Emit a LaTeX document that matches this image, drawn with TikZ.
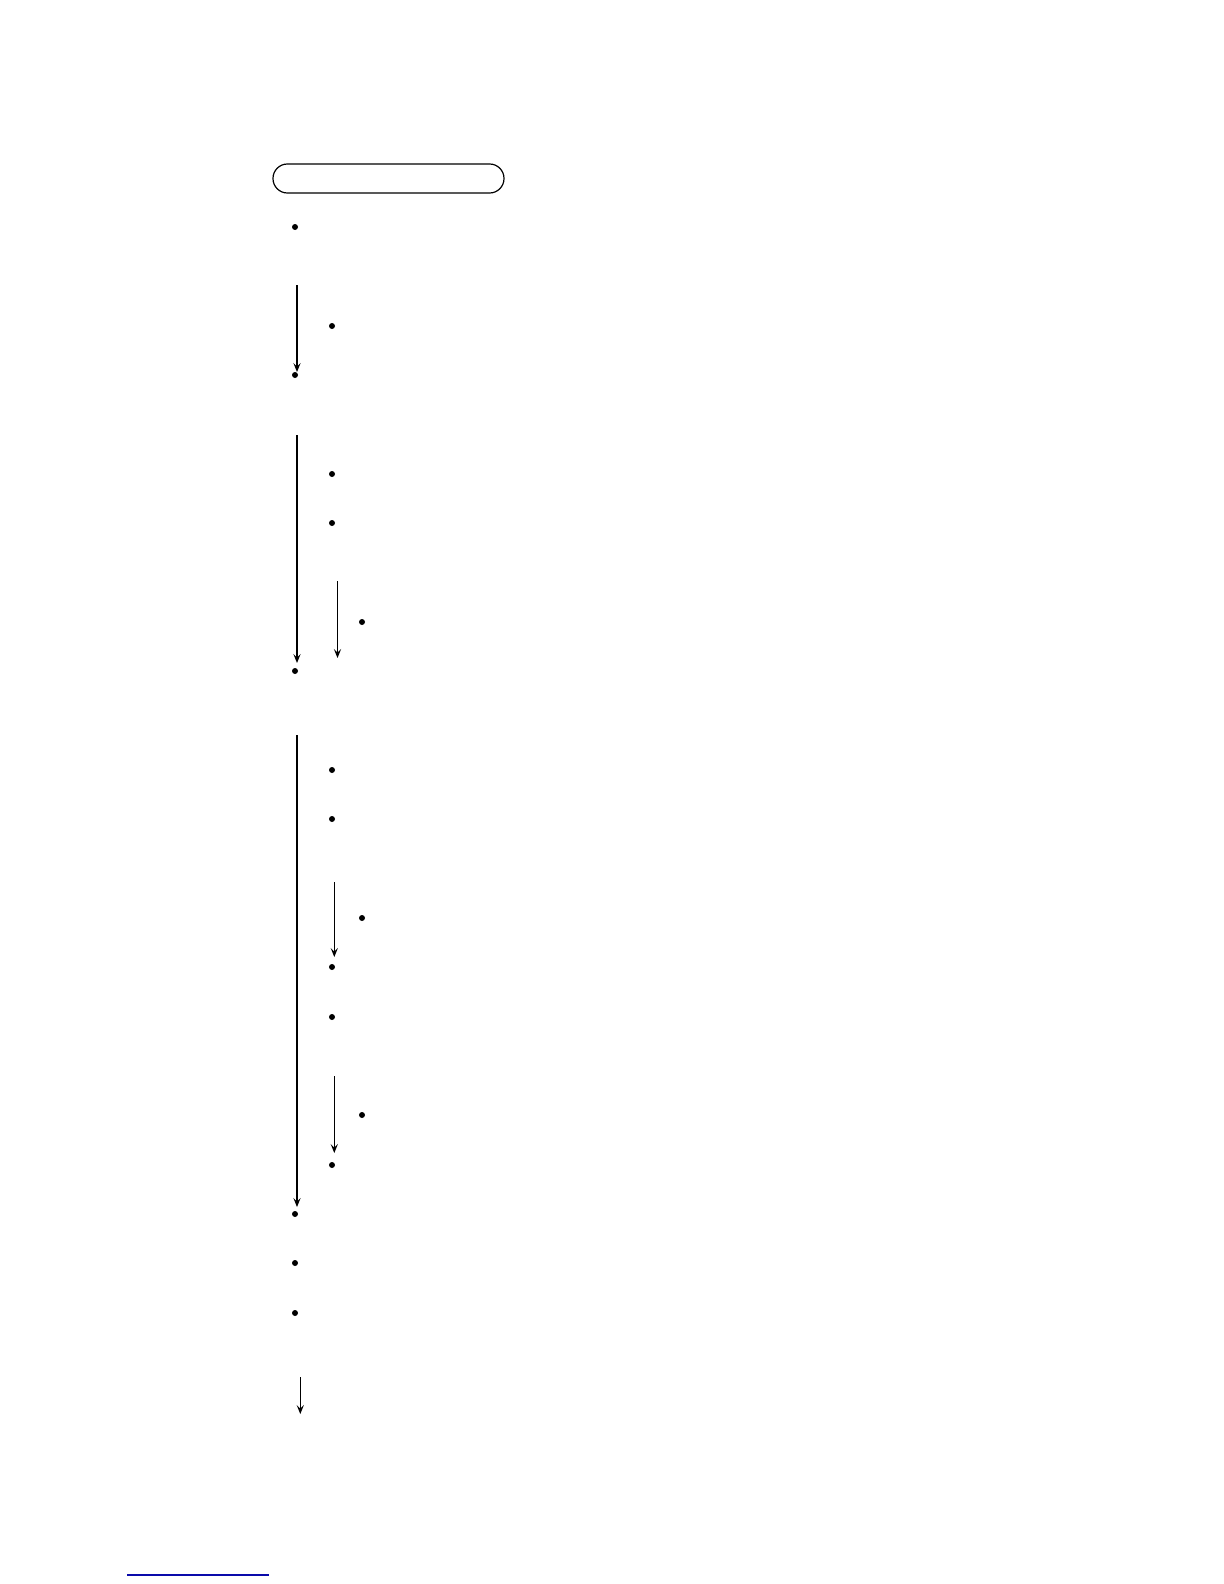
\documentclass[tikz,border=0pt]{standalone}
\usepackage{tikz}
\usetikzlibrary{arrows.meta, positioning}
\usepackage{xcolor}
\definecolor{ruleblue}{RGB}{10, 10, 170}

\tikzset{
  dot/.style={circle, fill=black, inner sep=0pt, minimum size=3pt},
  flow/.style={-{Stealth[length=4.5pt, width=3.6pt, inset=1.8pt]}, line width=0.6pt},
  titlebox/.style={draw, line width=0.6pt, rounded corners=7.2pt, minimum width=115.5pt, minimum height=14.5pt, inner sep=0pt}
}

\begin{document}
\begin{tikzpicture}[x=0.5pt, y=-0.5pt]
    \useasboundingbox (0,0) rectangle (1224,1584);
    \node[titlebox] (title) at (388.5,178.5) {};
    % main steps
    \node[dot] (s1) at (295,227) {};
    \node[dot] (s2) at (295,375) {};
    \node[dot] (s3) at (295,671) {};
    \node[dot] (s4) at (295,1214) {};
    \node[dot] (s5) at (295,1263) {};
    \node[dot] (s6) at (295,1313) {};
    % sub steps
    \node[dot] (a1) at (332,326) {};
    \node[dot] (b1) at (332,474) {};
    \node[dot] (b2) at (332,523) {};
    \node[dot] (b3) at (362,622) {};
    \node[dot] (c1) at (332,770) {};
    \node[dot] (c2) at (332,819) {};
    \node[dot] (c3) at (362,918) {};
    \node[dot] (c4) at (332,967) {};
    \node[dot] (c5) at (332,1017) {};
    \node[dot] (c6) at (362,1115) {};
    \node[dot] (c7) at (332,1165) {};
    % arrow ends
    \coordinate (A1top) at (297,285);   \coordinate (A1end) at (297,372);
    \coordinate (A2top) at (297,435);   \coordinate (A2end) at (297,663);
    \coordinate (A3top) at (297,735);   \coordinate (A3end) at (297,1207);
    \coordinate (B1top) at (337.5,581); \coordinate (B1end) at (337.5,658);
    \coordinate (C1top) at (334.3,882); \coordinate (C1end) at (334.3,957);
    \coordinate (C2top) at (334.3,1076);\coordinate (C2end) at (334.3,1153);
    \coordinate (Dtop) at (300.3,1377); \coordinate (Dend) at (300.3,1414);
    \draw[flow] (A1top) -- (A1end);
    \draw[flow] (A2top) -- (A2end);
    \draw[flow] (A3top) -- (A3end);
    \draw[flow] (B1top) -- (B1end);
    \draw[flow] (C1top) -- (C1end);
    \draw[flow] (C2top) -- (C2end);
    \draw[flow] (Dtop) -- (Dend);
    \draw[ruleblue, line width=1pt] (127,1575) -- (269,1575);
\end{tikzpicture}
\end{document}
